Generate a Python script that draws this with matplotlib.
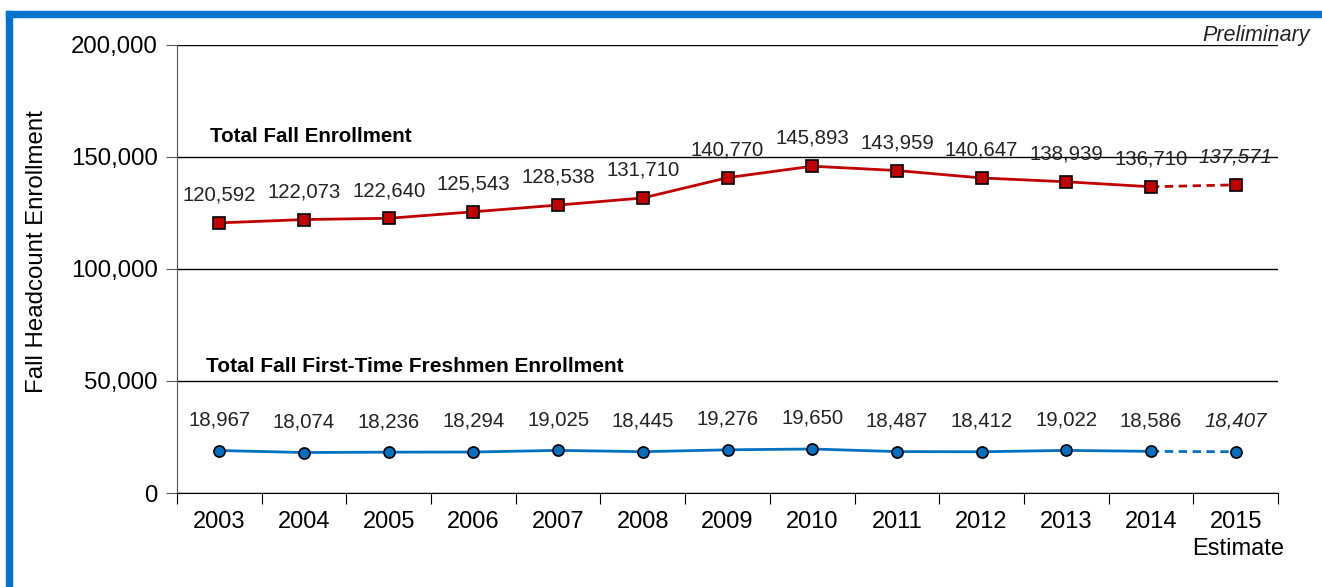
import matplotlib.pyplot as plt
from matplotlib.patches import Rectangle

plt.rcParams['font.family'] = ['Liberation Sans', 'DejaVu Sans']

years = ['2003', '2004', '2005', '2006', '2007', '2008', '2009',
         '2010', '2011', '2012', '2013', '2014', '2015']
total = [120592, 122073, 122640, 125543, 128538, 131710, 140770,
         145893, 143959, 140647, 138939, 136710, 137571]
freshmen = [18967, 18074, 18236, 18294, 19025, 18445, 19276,
            19650, 18487, 18412, 19022, 18586, 18407]

red = '#C00000'
blue = '#0070C0'

fig = plt.figure(figsize=(13.22, 5.87), dpi=100)
ax = fig.add_axes([177 / 1322, 94 / 587, 1101 / 1322, 448 / 587])

x = list(range(len(years)))
n = len(years)

# solid actual years, dashed estimate segment
ax.plot(x[:-1], total[:-1], color=red, lw=2, zorder=3)
ax.plot(x[-2:], total[-2:], color=red, lw=2, ls=(0, (3, 2)), zorder=3)
ax.plot(x, total, ls='none', marker='s', ms=8, mfc=red, mec='black', mew=1.2, zorder=4)

ax.plot(x[:-1], freshmen[:-1], color=blue, lw=2, zorder=3)
ax.plot(x[-2:], freshmen[-2:], color=blue, lw=2, ls=(0, (3, 2)), zorder=3)
ax.plot(x, freshmen, ls='none', marker='o', ms=8, mfc=blue, mec='black', mew=1.2, zorder=4)

for i in x:
    style = 'italic' if i == n - 1 else 'normal'
    ax.annotate(f'{total[i]:,}', (i, total[i]), xytext=(0, 20), textcoords='offset points',
                ha='center', va='center', fontsize=14.7, color='#222222', style=style)
    ax.annotate(f'{freshmen[i]:,}', (i, freshmen[i]), xytext=(0, 22), textcoords='offset points',
                ha='center', va='center', fontsize=14.7, color='#222222', style=style)

ax.set_xlim(-0.5, n - 0.5)
ax.set_ylim(0, 200000)
ax.set_yticks([0, 50000, 100000, 150000, 200000])
ax.set_yticklabels(['0', '50,000', '100,000', '150,000', '200,000'], fontsize=17.3)
ax.yaxis.grid(True, color='black', lw=1)
ax.set_axisbelow(True)

# category ticks sit between the years
ax.set_xticks([i - 0.5 for i in range(n + 1)], minor=False)
ax.set_xticklabels([])
ax.set_xticks(x, minor=True)
ax.set_xticklabels(years, minor=True, fontsize=17)
ax.tick_params(axis='x', which='major', length=8, direction='out', color='black')
ax.tick_params(axis='x', which='minor', length=0, pad=13)
ax.tick_params(axis='y', length=8, direction='out', color='#555555', pad=6)

for s in ['top', 'right']:
    ax.spines[s].set_visible(False)
ax.spines['left'].set_color('#555555')
ax.spines['bottom'].set_color('black')

ax.text(0.03, 0.795, 'Total Fall Enrollment', transform=ax.transAxes,
        fontsize=14.8, fontweight='bold', va='center', ha='left')
ax.text(0.026, 0.283, 'Total Fall First-Time Freshmen Enrollment', transform=ax.transAxes,
        fontsize=15, fontweight='bold', va='center', ha='left')

fig.text(1310 / 1322, 1 - 36 / 587, 'Preliminary', fontsize=15.5, style='italic',
         ha='right', va='center', color='#222222')
fig.text(1238 / 1322, 1 - 549 / 587, 'Estimate', fontsize=17, ha='center', va='center')
fig.text(37 / 1322, 1 - 252 / 587, 'Fall Headcount Enrollment', fontsize=17.3,
         rotation=90, ha='center', va='center')

# blue frame on left and top edges
fig.patches.append(Rectangle((6 / 1322, 0), 6 / 1322, 1 - 11 / 587,
                             transform=fig.transFigure, color='#0073CF', zorder=0))
fig.patches.append(Rectangle((6 / 1322, 1 - 17 / 587), 1 - 6 / 1322, 6 / 587,
                             transform=fig.transFigure, color='#0073CF', zorder=0))

fig.savefig('out.png', dpi=100)
